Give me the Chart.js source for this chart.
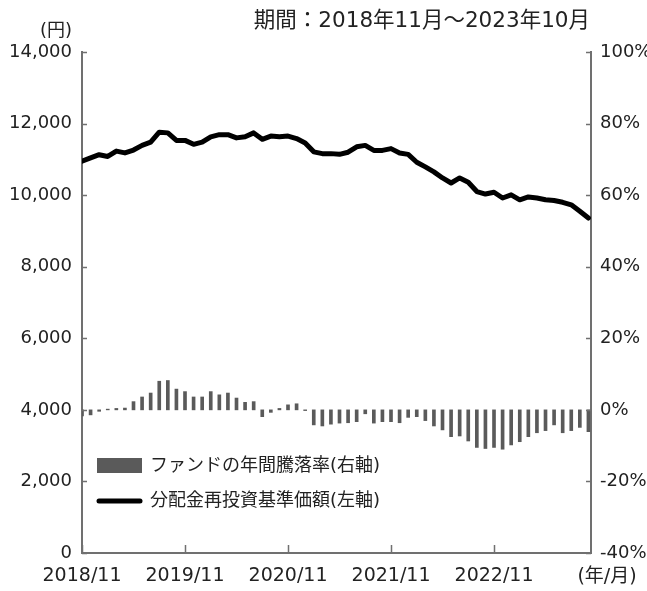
<!DOCTYPE html>
<html>
<head>
<meta charset="utf-8">
<script src="https://cdn.jsdelivr.net/npm/chart.js@4.4.1/dist/chart.umd.min.js"></script>
<style>
  html, body { margin: 0; padding: 0; background: #fff; }
  #wrap { width: 647px; height: 591px; position: relative; }
</style>
</head>
<body>
<div id="wrap"><canvas id="navChart"></canvas></div>
<script>
// --- datos ---
const months = [
  "2018/11","2018/12","2019/01","2019/02","2019/03","2019/04","2019/05","2019/06","2019/07","2019/08","2019/09","2019/10",
  "2019/11","2019/12","2020/01","2020/02","2020/03","2020/04","2020/05","2020/06","2020/07","2020/08","2020/09","2020/10",
  "2020/11","2020/12","2021/01","2021/02","2021/03","2021/04","2021/05","2021/06","2021/07","2021/08","2021/09","2021/10",
  "2021/11","2021/12","2022/01","2022/02","2022/03","2022/04","2022/05","2022/06","2022/07","2022/08","2022/09","2022/10",
  "2022/11","2022/12","2023/01","2023/02","2023/03","2023/04","2023/05","2023/06","2023/07","2023/08","2023/09","2023/10"
];
const tickMonths = ["2018/11","2019/11","2020/11","2021/11","2022/11"];

// 分配金再投資基準価額 (円)
const navValues = [
  10950, 11040, 11130, 11080, 11230, 11180, 11260, 11390, 11480, 11760, 11740, 11530,
  11530, 11420, 11480, 11630, 11690, 11690, 11600, 11630, 11740, 11560, 11650, 11630,
  11650, 11580, 11460, 11210, 11160, 11160, 11140, 11200, 11350, 11390, 11250, 11250,
  11300, 11180, 11140, 10920, 10790, 10650, 10480, 10340, 10480, 10360, 10100, 10030,
  10080,  9920, 10010,  9870,  9950,  9920,  9870,  9850,  9800,  9730,  9550,  9360
];

// ファンドの年間騰落率 (%)
const returnValues = [
  -1.7, -1.4, -0.4,  0.2,  0.4,  0.5,  2.3,  3.6,  4.7,  8.0,  8.2,  5.8,
   5.1,  3.6,  3.6,  5.1,  4.2,  4.7,  3.3,  2.1,  2.3, -1.9, -0.7,  0.4,
   1.4,  1.7, -0.2, -4.2, -4.5, -4.0, -3.7, -3.6, -3.3, -1.1, -3.7, -3.3,
  -3.3, -3.6, -2.1, -1.9, -3.0, -4.5, -5.6, -7.5, -7.3, -8.7, -10.5, -10.8,
  -10.5, -11.0, -9.8, -8.9, -7.5, -6.4, -5.8, -4.2, -6.4, -5.8, -4.9, -6.1
];

const FONT = "'DejaVu Sans', 'Noto Sans CJK JP', sans-serif";
const TEXT_COLOR = "#222";
const AXIS_COLOR = "#707070";
const BAR_COLOR = "#5a5a5a";

// marcas de los ejes hacia adentro
const inwardTicksPlugin = {
    id: "inwardTicks",
    afterDraw(chart) {
        const ctx = chart.ctx;
        const area = chart.chartArea;
        const s = chart.scales;
        ctx.save();
        ctx.strokeStyle = AXIS_COLOR;
        ctx.lineWidth = 1.5;
        ctx.beginPath();
        s.y.ticks.forEach(t => {
            const py = Math.round(s.y.getPixelForValue(t.value)) + 0.5;
            ctx.moveTo(area.left, py);
            ctx.lineTo(area.left + 5, py);
        });
        s.y1.ticks.forEach(t => {
            const py = Math.round(s.y1.getPixelForValue(t.value)) + 0.5;
            ctx.moveTo(area.right, py);
            ctx.lineTo(area.right - 5, py);
        });
        s.x.ticks.forEach(t => {
            const px = Math.round(s.x.getPixelForValue(t.value)) + 0.5;
            ctx.moveTo(px, area.bottom);
            ctx.lineTo(px, area.bottom - 8);
        });
        ctx.stroke();
        ctx.restore();
    }
};

// textos fuera del área (título, unidades, leyenda)
const extrasPlugin = {
    id: "extras",
    afterDraw(chart) {
        const ctx = chart.ctx;
        const area = chart.chartArea;
        ctx.save();
        ctx.fillStyle = TEXT_COLOR;
        ctx.textBaseline = "middle";

        ctx.font = "21.5px " + FONT;
        ctx.textAlign = "right";
        ctx.fillText("期間：2018年11月～2023年10月", area.right - 1, 21);

        ctx.font = "18px " + FONT;
        ctx.fillText("(円)", area.left - 10, 31);

        ctx.textAlign = "center";
        ctx.font = "19px " + FONT;
        ctx.fillText("(年/月)", 607, 577);

        // leyenda
        const bar = chart.data.datasets[1];
        const line = chart.data.datasets[0];
        const lx = area.left + 15;
        ctx.fillStyle = bar.backgroundColor;
        ctx.fillRect(lx, 458, 45, 15);
        ctx.strokeStyle = line.borderColor;
        ctx.lineWidth = 5;
        ctx.lineCap = "round";
        ctx.beginPath();
        ctx.moveTo(lx + 2, 501);
        ctx.lineTo(lx + 43, 501);
        ctx.stroke();

        ctx.fillStyle = TEXT_COLOR;
        ctx.textAlign = "left";
        ctx.font = "18px " + FONT;
        ctx.fillText(bar.label, lx + 53, 466);
        ctx.fillText(line.label, lx + 53, 501);
        ctx.restore();
    }
};

const ctx = document.getElementById("navChart").getContext("2d");

new Chart(ctx, {
    data: {
        datasets: [
            {
                type: "line",
                label: "分配金再投資基準価額(左軸)",
                data: navValues.map((v, i) => ({ x: i, y: v })),
                yAxisID: "y",
                borderColor: "#000",
                borderWidth: 5,
                pointRadius: 0,
                tension: 0,
                borderJoinStyle: "round",
                borderCapStyle: "round",
                order: 0
            },
            {
                type: "bar",
                label: "ファンドの年間騰落率(右軸)",
                data: returnValues.map((v, i) => ({ x: i, y: v })),
                yAxisID: "y1",
                backgroundColor: BAR_COLOR,
                barThickness: 3,
                order: 1
            }
        ]
    },
    options: {
        responsive: true,
        maintainAspectRatio: false,
        animation: false,
        layout: { padding: { top: 52 } },
        plugins: {
            legend: { display: false },
            tooltip: { enabled: false }
        },
        scales: {
            x: {
                type: "linear",
                offset: false,
                min: 0,
                max: 59.3,
                afterBuildTicks: (scale) => {
                    scale.ticks = tickMonths.map(m => ({ value: months.indexOf(m) }));
                },
                afterFit: (scale) => { scale.height = 38; },
                ticks: {
                    color: TEXT_COLOR,
                    font: { family: FONT, size: 19 },
                    padding: 12,
                    maxRotation: 0,
                    autoSkip: false,
                    callback: (v) => months[v]
                },
                grid: { display: false, drawTicks: false, offset: false },
                border: { color: AXIS_COLOR, width: 2 }
            },
            y: {
                position: "left",
                min: 0,
                max: 14000,
                afterFit: (scale) => { scale.width = 82; },
                ticks: {
                    stepSize: 2000,
                    color: TEXT_COLOR,
                    font: { family: FONT, size: 18 },
                    padding: 10,
                    callback: (v) => v.toLocaleString("en-US")
                },
                grid: { display: false, drawTicks: false },
                border: { color: AXIS_COLOR, width: 2 }
            },
            y1: {
                position: "right",
                min: -40,
                max: 100,
                afterFit: (scale) => { scale.width = 56; },
                ticks: {
                    stepSize: 20,
                    color: TEXT_COLOR,
                    font: { family: FONT, size: 18 },
                    padding: 9,
                    callback: (v) => v + "%"
                },
                grid: { display: false, drawTicks: false },
                border: { color: AXIS_COLOR, width: 2 }
            }
        }
    },
    plugins: [inwardTicksPlugin, extrasPlugin]
});
</script>
</body>
</html>
